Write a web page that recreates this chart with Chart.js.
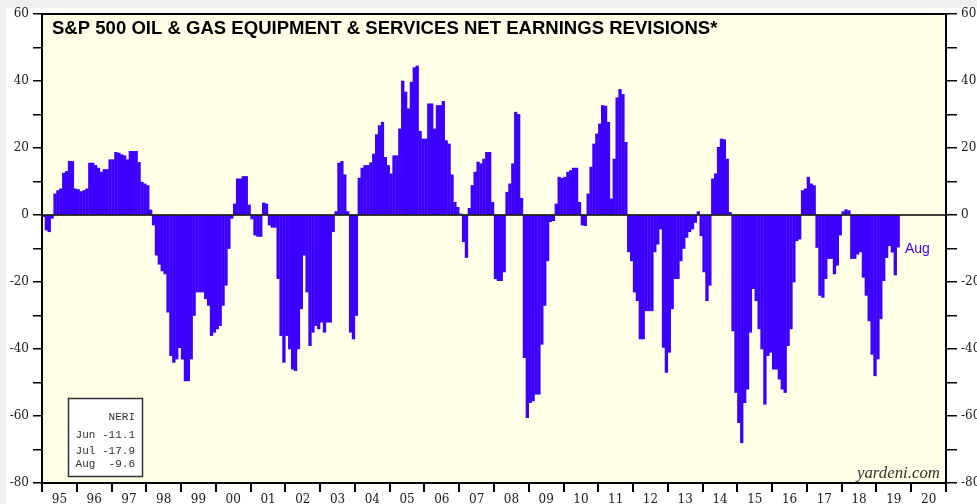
<!DOCTYPE html>
<html>
<head>
<meta charset="utf-8">
<script src="https://cdn.jsdelivr.net/npm/chart.js@4.4.1/dist/chart.umd.min.js"></script>
<style>
  html, body { margin: 0; padding: 0; background: #fff; }
  #wrap { width: 977px; height: 504px; }
</style>
</head>
<body>
<div id="wrap"><canvas id="neriChart" width="977" height="504"></canvas></div>
<script>
// S&P 500 Oil & Gas Equipment & Services: net earnings revisions (NERI), monthly from Jan 1995
const firstYear = 1995;
const neriValues = [
  -0.5, -4.5, -5, -1, 6.3, 7.3, 7.8, 12.5, 13, 16, 16, 7.8,            // 1995
  7.6, 7, 7.3, 7.8, 15.5, 15.5, 14.8, 14, 12.8, 13.6, 13.6, 16.5,      // 1996
  16.5, 18.7, 18.5, 18, 17.7, 16.5, 19, 19, 19, 15.7, 9.8, 9.3,        // 1997
  8.8, 1.5, -3, -12, -14.7, -16.7, -17.6, -29, -42, -44, -43, -39.6,   // 1998
  -43, -49.5, -49.5, -43, -30, -23, -23, -23, -25, -27, -36, -35,      // 1999
  -34, -33, -27, -21, -10, -1, 3.3, 10.8, 10.8, 11.5, 11.5, 3,         // 2000
  -1.2, -6, -6.4, -6.4, 3.6, 3.3, -3, -3.7, -3.7, -19, -36, -44,       // 2001
  -36, -40, -46, -46.5, -40, -28, -12, -23, -39, -35, -33, -34,        // 2002
  -32, -35, -32, -32, -5, 1, 15.5, 16, 12, 1, -35, -37,                // 2003
  -30, 11, 14, 14.8, 14.8, 15.6, 18.2, 24, 26.7, 27.7, 17.2, 14.8,     // 2004
  12.3, 17.7, 17.7, 25.7, 40, 36.7, 31.7, 39.7, 44, 44.5, 25, 22.7,    // 2005
  22.7, 33.2, 33.2, 25.7, 32.7, 32.7, 33.9, 22.2, 21.2, 12, 3.8, 2.3,  // 2006
  0.3, -8, -12.7, 2, 8.8, 12.8, 15.8, 15.3, 16.7, 18.7, 18.7, 3.8,     // 2007
  -19, -19.6, -19.6, -17, 6.8, 9.3, 15.3, 30.7, 30, 5, -42.6, -60.5,   // 2008
  -56, -55.5, -53.5, -53.5, -38.6, -27, -13.7, -2, -1.7, 3.3, 11.3, 11, // 2009
  11.3, 12.8, 13.3, 14, 14, 3.8, -3, -3.2, 6.3, 14.3, 21.2, 24.2,      // 2010
  27.2, 32.7, 32.5, 27.7, 4.8, 16.7, 35, 37.5, 36, 21.7, -11, -13.7,   // 2011
  -23, -25.6, -37, -37, -28.6, -28.6, -28.6, -11, -8.7, -4.2, -39.5, -47, // 2012
  -41, -28, -19, -19, -13.7, -10, -6.7, -5, -4.2, -2.2, 1, -6.2,       // 2013
  -17, -25.6, -21, 10.8, 12.3, 20.2, 22.7, 22.5, 16.7, 0.8, -34.6, -53, // 2014
  -62, -68, -56, -52, -35, -22, -25.6, -34, -40, -56.5, -42, -41,      // 2015
  -46, -46, -49, -52, -53, -39, -34, -20, -7.7, -7.2, 7.3, 7.8,        // 2016
  11.3, 9.3, 8.8, -9.7, -24, -24.6, -19, -13, -13, -17.6, -15, -6,     // 2017
  1, 1.6, 1.3, -13, -13, -11.7, -11, -18.6, -24, -31.6, -41.6, -48,    // 2018
  -43, -31, -19.6, -12.7, -9.2, -11.1, -17.9, -9.6                     // 2019 (to Aug)
];
const yearTicks = [];
for (let y = 1995; y <= 2021; y++) yearTicks.push(y);
const yTickValues = [-80, -70, -60, -50, -40, -30, -20, -10, 0, 10, 20, 30, 40, 50, 60];
const legendRows = ['NERI', 'Jun -11.1', 'Jul -17.9', 'Aug  -9.6'];
const lastLabel = 'Aug';

const chartTitle = 'S&P 500 OIL & GAS EQUIPMENT & SERVICES NET EARNINGS REVISIONS*';
const barColor = '#3c00ff';
const tickFont = { family: 'DejaVu Serif', size: 12 };

const points = neriValues.map((v, i) => ({ x: firstYear + (i + 0.5) / 12, y: v }));

// helper: write text stretched/shrunk to a given width
function fitText(ctx, text, x, y, width, fontTpl, baseSize) {
    ctx.font = fontTpl.replace('%s', baseSize + 'px');
    const w = ctx.measureText(text).width;
    const size = baseSize * width / w;
    ctx.font = fontTpl.replace('%s', size.toFixed(2) + 'px');
    ctx.fillText(text, x, y);
}

const decorPlugin = {
    id: 'decor',
    beforeDraw(chart) {
        const { ctx, chartArea: a } = chart;
        ctx.save();
        ctx.fillStyle = '#ffffff';
        ctx.fillRect(0, 0, chart.width, chart.height);
        ctx.fillStyle = '#efefef';
        ctx.fillRect(0, 0, chart.width, 8);
        ctx.fillRect(0, 0, 6, chart.height);
        ctx.fillStyle = '#fffee6';
        ctx.fillRect(a.left, a.top, a.right - a.left, a.bottom - a.top);
        ctx.restore();
    },
    afterDatasetsDraw(chart) {
        const { ctx, chartArea: a } = chart;
        const y0 = chart.scales.y.getPixelForValue(0);
        ctx.save();
        ctx.strokeStyle = '#000';
        ctx.lineWidth = 1.5;
        ctx.beginPath();
        ctx.moveTo(a.left, y0);
        ctx.lineTo(a.right, y0);
        ctx.stroke();
        ctx.lineWidth = 2;
        ctx.strokeRect(a.left, a.top, a.right - a.left, a.bottom - a.top);
        ctx.restore();
    },
    afterDraw(chart) {
        const { ctx } = chart;
        ctx.save();
        // title
        ctx.fillStyle = '#000';
        ctx.textBaseline = 'alphabetic';
        ctx.textAlign = 'left';
        fitText(ctx, chartTitle, 52, 34, 666, 'bold %s "Liberation Sans", Arial, sans-serif', 18);

        // legend box
        ctx.fillStyle = '#fff';
        ctx.fillRect(68.5, 398.5, 74, 78);
        ctx.strokeStyle = '#333';
        ctx.lineWidth = 1.5;
        ctx.strokeRect(68.5, 398.5, 74, 78);
        ctx.fillStyle = '#333';
        ctx.font = '11px "Liberation Mono", "DejaVu Sans Mono", monospace';
        ctx.textAlign = 'right';
        const rowY = [420, 438, 454, 467];
        legendRows.forEach((t, i) => ctx.fillText(t, 135, rowY[i]));

        // last value tag
        ctx.textAlign = 'left';
        ctx.fillStyle = barColor;
        ctx.font = '14px "Liberation Sans", Arial, sans-serif';
        ctx.fillText(lastLabel, 905, 253);

        // source
        ctx.fillStyle = '#333';
        fitText(ctx, 'yardeni.com', 857, 478, 83, 'italic %s "Liberation Serif", serif', 16);
        ctx.restore();
    }
};

new Chart(document.getElementById('neriChart'), {
    type: 'bar',
    data: {
        datasets: [{
            label: 'NERI',
            data: points,
            backgroundColor: barColor,
            borderWidth: 0,
            barThickness: 'flex',
            barPercentage: 0.92,
            categoryPercentage: 1.0
        }]
    },
    options: {
        responsive: false,
        animation: false,
        layout: { padding: { top: 14, left: 0, right: 0, bottom: 0 } },
        plugins: {
            legend: { display: false },
            tooltip: { enabled: false }
        },
        scales: {
            x: {
                type: 'linear',
                min: 1995,
                max: 2021,
                offset: false,
                afterFit(s) { s.height = 21; },
                afterBuildTicks(s) { s.ticks = yearTicks.map(v => ({ value: v })); },
                ticks: {
                    autoSkip: false,
                    maxRotation: 0,
                    labelOffset: 17.4,
                    padding: 1,
                    color: '#1a1a1a',
                    font: tickFont,
                    callback: v => v < 2021 ? String(v % 100).padStart(2, '0') : ''
                },
                grid: { drawOnChartArea: false, offset: false, tickLength: 9, color: '#000', lineWidth: 2 },
                border: { display: false }
            },
            y: {
                position: 'left',
                min: -80,
                max: 60,
                afterFit(s) { s.width = 42; },
                afterBuildTicks(s) { s.ticks = yTickValues.map(v => ({ value: v })); },
                ticks: {
                    padding: 4,
                    color: '#1a1a1a',
                    font: tickFont,
                    callback: v => v % 20 === 0 ? String(v) : ''
                },
                grid: { drawOnChartArea: false, tickLength: 9, color: '#000', lineWidth: 1.5 },
                border: { display: false }
            },
            y2: {
                position: 'right',
                min: -80,
                max: 60,
                afterFit(s) { s.width = 31; },
                afterBuildTicks(s) { s.ticks = yTickValues.map(v => ({ value: v })); },
                ticks: {
                    padding: 4,
                    color: '#1a1a1a',
                    font: tickFont,
                    callback: v => v % 20 === 0 ? String(v) : ''
                },
                grid: { drawOnChartArea: false, tickLength: 11, color: '#000', lineWidth: 1.5 },
                border: { display: false }
            }
        }
    },
    plugins: [decorPlugin]
});
</script>
</body>
</html>
